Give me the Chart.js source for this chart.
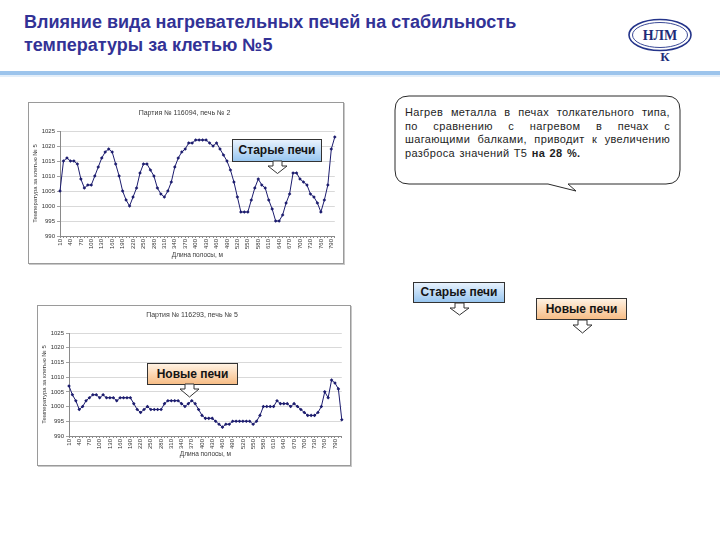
<!DOCTYPE html>
<html lang="ru">
<head>
<meta charset="utf-8">
<title>Влияние вида нагревательных печей</title>
<script src="https://cdn.jsdelivr.net/npm/chart.js@4.4.1/dist/chart.umd.min.js"></script>
<style>
  body { margin: 0; width: 720px; height: 540px; background: #fff; position: relative; overflow: hidden; font-family: Arial, "Liberation Sans", sans-serif; }
  .title { position: absolute; left: 24px; top: 11px; font-size: 18px; font-weight: bold; color: #323296; line-height: 23px; }
  .rule { position: absolute; left: 0; top: 71px; width: 720px; height: 4px; background: #9cc4ec; }
  .rule2 { position: absolute; left: 0; top: 75px; width: 720px; height: 2px; background: #e3eef9; }
  .panel { position: absolute; background: #fff; border: 1px solid #9a9a9a; box-shadow: 1px 1px 0 #c8c8c8; }
  .panel canvas { display: block; }
  .callout { position: absolute; border: 1px solid #333; font-weight: bold; font-size: 12px; color: #141414; text-align: center; box-sizing: border-box; z-index: 3; }
  .old { background: linear-gradient(to bottom, #e8f2fd, #98c6f0); }
  .new { background: linear-gradient(to bottom, #fff2e3, #f7bd86); }
  .arrow { position: absolute; z-index: 4; overflow: visible; }
  .bubble { position: absolute; left: 390px; top: 90px; z-index: 2; }
  .bubble-text { position: absolute; left: 405px; top: 106px; width: 265px; font-size: 11px; line-height: 13.5px; color: #1e1e1e; text-align: justify; letter-spacing: 0.35px; word-spacing: 1px; z-index: 3; }
  .logo { position: absolute; left: 624px; top: 14px; }
</style>
</head>
<body>
<div class="title">Влияние вида нагревательных печей на стабильность<br>температуры за клетью №5</div>
<div class="rule"></div>
<div class="rule2"></div>

<svg class="logo" width="76" height="52" viewBox="0 0 76 52">
  <ellipse cx="36" cy="21" rx="31" ry="15.5" fill="#fff" stroke="#24348a" stroke-width="1.6"/>
  <ellipse cx="36" cy="21" rx="27.5" ry="12.5" fill="none" stroke="#24348a" stroke-width="0.9"/>
  <text x="36" y="26" text-anchor="middle" font-family="'Liberation Serif', 'DejaVu Serif', serif" font-weight="bold" font-size="14" fill="#1e2c78">НЛМ</text>
  <text x="41" y="47" text-anchor="middle" font-family="'Liberation Serif', 'DejaVu Serif', serif" font-weight="bold" font-size="13" fill="#1e2c78">К</text>
</svg>

<div class="panel" style="left:28px;top:102px;width:314px;height:160px;"><canvas id="chart-old" width="314" height="160"></canvas></div>
<div class="panel" style="left:37px;top:305px;width:312px;height:159px;"><canvas id="chart-new" width="312" height="159"></canvas></div>

<!-- callouts -->
<div class="callout old" style="left:232px;top:139px;width:90px;height:23px;line-height:21px;">Старые печи</div>
<svg class="arrow" style="left:266px;top:160px;" width="24" height="16"><polygon points="7,1 16,1 16,6 21,6 11.5,13.5 2,6 7,6" fill="#fff" stroke="#333" stroke-width="1"/></svg>

<div class="callout new" style="left:147px;top:363px;width:91px;height:22px;line-height:20px;">Новые печи</div>
<svg class="arrow" style="left:178px;top:383px;" width="24" height="16"><polygon points="7,1 16,1 16,6 21,6 11.5,14 2,6 7,6" fill="#fff" stroke="#333" stroke-width="1"/></svg>

<div class="callout old" style="left:413px;top:282px;width:92px;height:21px;line-height:19px;">Старые печи</div>
<svg class="arrow" style="left:448px;top:302px;" width="24" height="16"><polygon points="7,1 16,1 16,6 21,6 11.5,13 2,6 7,6" fill="#fff" stroke="#333" stroke-width="1"/></svg>

<div class="callout new" style="left:536px;top:298px;width:91px;height:22px;line-height:20px;">Новые печи</div>
<svg class="arrow" style="left:571px;top:319px;" width="24" height="16"><polygon points="7,1 16,1 16,6 21,6 11.5,14 2,6 7,6" fill="#fff" stroke="#333" stroke-width="1"/></svg>

<svg class="bubble" width="300" height="110">
  <path d="M19,6 H276 Q290,6 290,20 V80 Q290,94 276,94 H178 L186,101 L158,94 H19 Q5,94 5,80 V20 Q5,6 19,6 Z" fill="#fff" stroke="#2a2a2a" stroke-width="1"/>
</svg>
<div class="bubble-text">Нагрев металла в печах толкательного типа, по сравнению с нагревом в печах с шагающими балками, приводит к увеличению разброса значений Т5 <b>на 28 %.</b></div>

<script>
// distance along the strip, m
const distOld = [10, 20, 30, 40, 50, 60, 70, 80, 90, 100, 110, 120, 130, 140, 150, 160, 170, 180, 190, 200,
  210, 220, 230, 240, 250, 260, 270, 280, 290, 300, 310, 320, 330, 340, 350, 360, 370, 380, 390, 400,
  410, 420, 430, 440, 450, 460, 470, 480, 490, 500, 510, 520, 530, 540, 550, 560, 570, 580, 590, 600,
  610, 620, 630, 640, 650, 660, 670, 680, 690, 700, 710, 720, 730, 740, 750, 760, 770, 780, 790, 800];
const distNew = [10, 20, 30, 40, 50, 60, 70, 80, 90, 100, 110, 120, 130, 140, 150, 160, 170, 180, 190, 200,
  210, 220, 230, 240, 250, 260, 270, 280, 290, 300, 310, 320, 330, 340, 350, 360, 370, 380, 390, 400,
  410, 420, 430, 440, 450, 460, 470, 480, 490, 500, 510, 520, 530, 540, 550, 560, 570, 580, 590, 600,
  610, 620, 630, 640, 650, 660, 670, 680, 690, 700, 710, 720, 730, 740, 750, 760, 770, 780, 790, 800, 810];

// temperature after stand 5, batch 116094, furnace 2 (old)
const tempOld = [1005, 1015, 1016, 1015, 1015, 1014, 1009, 1006, 1007, 1007,
  1010, 1013, 1016, 1018, 1019, 1018, 1014, 1010, 1005, 1002,
  1000, 1003, 1006, 1011, 1014, 1014, 1012, 1010, 1006, 1004,
  1003, 1005, 1008, 1013, 1016, 1018, 1019, 1021, 1021, 1022,
  1022, 1022, 1022, 1021, 1020, 1021, 1019, 1017, 1015, 1012,
  1008, 1003, 998, 998, 998, 1002, 1006, 1009, 1007, 1006,
  1002, 999, 995, 995, 997, 1001, 1004, 1011, 1011, 1009,
  1008, 1007, 1004, 1003, 1001, 998, 1002, 1007, 1019, 1023];

// batch 116293, furnace 5 (new)
const tempNew = [1007, 1004, 1002, 999, 1000, 1002, 1003, 1004, 1004, 1003,
  1004, 1003, 1003, 1003, 1002, 1003, 1003, 1003, 1003, 1001,
  999, 998, 999, 1000, 999, 999, 999, 999, 1001, 1002,
  1002, 1002, 1002, 1001, 1000, 1001, 1002, 1001, 999, 997,
  996, 996, 996, 995, 994, 993, 994, 994, 995, 995,
  995, 995, 995, 995, 994, 995, 997, 1000, 1000, 1000,
  1000, 1002, 1001, 1001, 1001, 1000, 1001, 1000, 999, 998,
  997, 997, 997, 998, 1000, 1005, 1003, 1009, 1008, 1006, 995.5];

const yMin = 990;
const yMax = 1025;
const yStep = 5;

const axisFont = { family: "Arial, 'Liberation Sans', sans-serif", size: 6 };
const lineColor = "#1c1c6e";

function buildChart(id, labels, values, title, box) {
  const ctx = document.getElementById(id);
  return new Chart(ctx, {
    type: "line",
    data: {
      labels: labels,
      datasets: [{
        data: values,
        borderColor: lineColor,
        borderWidth: 1,
        pointStyle: "rectRot",
        pointRadius: 1.8,
        pointBackgroundColor: lineColor,
        pointBorderColor: lineColor,
        pointBorderWidth: 0,
        tension: 0,
      }],
    },
    options: {
      responsive: false,
      animation: false,
      events: [],
      layout: { padding: { left: box.padLeft, right: box.padRight, top: 0, bottom: 0 } },
      plugins: {
        legend: { display: false },
        tooltip: { enabled: false },
        title: {
          display: true,
          text: title,
          color: "#3a3a3a",
          font: { family: axisFont.family, size: 7, weight: "normal" },
          padding: { top: box.titleTop, bottom: box.titleBottom },
        },
      },
      scales: {
        x: {
          type: "category",
          offset: false,
          border: { display: true, color: "#8a8a8a", width: 1 },
          grid: { drawOnChartArea: false, drawTicks: true, tickLength: 2, color: "#8a8a8a" },
          ticks: {
            autoSkip: false,
            maxRotation: 90,
            minRotation: 90,
            padding: 1,
            color: "#333",
            font: axisFont,
            callback: (value, index) => (index % 3 === 0 ? String(labels[index]) : ""),
          },
          title: {
            display: true,
            text: "Длина полосы, м",
            color: "#3a3a3a",
            font: { family: axisFont.family, size: 6.5 },
            padding: { top: 0, bottom: box.xTitleBottom },
          },
          afterFit: (scale) => { scale.height = box.xHeight; },
        },
        y: {
          min: yMin,
          max: yMax,
          border: { display: true, color: "#8a8a8a", width: 1 },
          grid: { color: "#cfcfcf", lineWidth: 0.8, tickLength: 3, tickColor: "#8a8a8a" },
          ticks: { stepSize: yStep, padding: 2, color: "#333", font: axisFont, callback: (value) => String(value) },
          title: {
            display: true,
            text: "Температура за клетью № 5",
            color: "#3a3a3a",
            font: { family: axisFont.family, size: 6 },
            padding: { top: 0, bottom: 1 },
          },
          afterFit: (scale) => { scale.width = box.yWidth; },
        },
      },
    },
  });
}

window.addEventListener("DOMContentLoaded", () => {
  buildChart("chart-old", distOld, tempOld, "Партия № 116094, печь № 2",
    { padLeft: 3, padRight: 6, titleTop: 6, titleBottom: 13.6, xHeight: 27, xTitleBottom: 4, yWidth: 28 });
  buildChart("chart-new", distNew, tempNew, "Партия № 116293, печь № 5",
    { padLeft: 3, padRight: 7, titleTop: 5, titleBottom: 13.6, xHeight: 29, xTitleBottom: 7, yWidth: 28 });
});
</script>
</body>
</html>
